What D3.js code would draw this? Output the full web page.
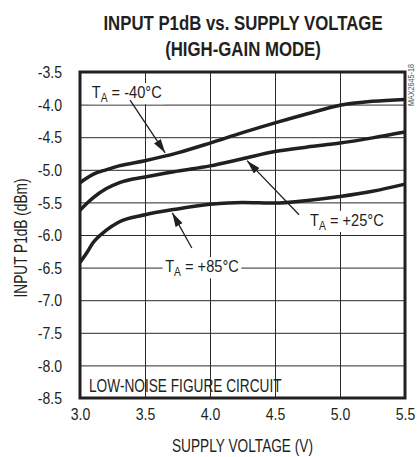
<!DOCTYPE html>
<html>
<head>
<meta charset="utf-8">
<script src="https://cdn.jsdelivr.net/npm/d3@7"></script>
<style>
  body { margin: 0; background: #fff; }
  svg text { font-family: "Liberation Sans", Arial, sans-serif; fill: #231f20; }
</style>
</head>
<body>
<script>
// values
const voltage = [3.0, 3.05, 3.1, 3.2, 3.3, 3.5, 3.75, 4.0, 4.25, 4.5, 4.75, 5.0, 5.25, 5.5];
const p1dbMinus40 = [-5.20, -5.13, -5.07, -5.00, -4.94, -4.86, -4.74, -4.59, -4.43, -4.28, -4.14, -4.01, -3.95, -3.92];
const p1dbPlus25 = [-5.62, -5.52, -5.43, -5.29, -5.20, -5.11, -5.02, -4.94, -4.83, -4.72, -4.65, -4.59, -4.51, -4.42];
const p1dbPlus85 = [-6.42, -6.28, -6.12, -5.93, -5.80, -5.69, -5.60, -5.53, -5.50, -5.51, -5.47, -5.41, -5.33, -5.22];
const xTicks = [3.0, 3.5, 4.0, 4.5, 5.0, 5.5];
const yTicks = [-3.5, -4.0, -4.5, -5.0, -5.5, -6.0, -6.5, -7.0, -7.5, -8.0, -8.5];
const tempLabels = ['-40°C', '+25°C', '+85°C'];

const W = 417, H = 457;
const m = { left: 80, right: 12, top: 72, bottom: 59 };
const ink = '#231f20';

const svg = d3.select('body').append('svg')
  .attr('width', W)
  .attr('height', H);

const x = d3.scaleLinear().domain([3.0, 5.5]).range([m.left, W - m.right]);
const y = d3.scaleLinear().domain([-8.5, -3.5]).range([H - m.bottom, m.top]);

// condensed look: regular font squeezed horizontally
function narrowText(parent, px, py, size, sx, str, anchor) {
  const g = parent.append('g').attr('transform', `translate(${px},${py}) scale(${sx},1)`);
  const t = g.append('text').attr('text-anchor', anchor || 'start').style('font-size', size + 'px');
  if (str != null) t.text(str);
  return t;
}

// title
narrowText(svg, 243, 30, 21, 0.8, 'INPUT P1dB vs. SUPPLY VOLTAGE', 'middle').style('font-weight', 'bold');
narrowText(svg, 243, 56, 21, 0.8, '(HIGH-GAIN MODE)', 'middle').style('font-weight', 'bold');

// grid
svg.append('g')
  .attr('transform', `translate(0,${y(-8.5)})`)
  .call(d3.axisBottom(x).tickValues(xTicks).tickSize(-(y(-8.5) - y(-3.5))).tickFormat(''))
  .call(g => g.select('.domain').remove())
  .selectAll('line').attr('stroke', '#2a2a2a').attr('stroke-width', 1);
svg.append('g')
  .attr('transform', `translate(${x(3.0)},0)`)
  .call(d3.axisLeft(y).tickValues(yTicks).tickSize(-(x(5.5) - x(3.0))).tickFormat(''))
  .call(g => g.select('.domain').remove())
  .selectAll('line').attr('stroke', '#2a2a2a').attr('stroke-width', 1);

// tick labels
svg.append('g')
  .attr('transform', `translate(62,0)`)
  .call(d3.axisLeft(y).tickValues(yTicks).tickSize(0).tickFormat(d => d.toFixed(1)))
  .call(g => g.select('.domain').remove())
  .selectAll('text')
  .attr('x', 0).attr('dy', '0.36em')
  .attr('transform', 'scale(0.88,1)')
  .style('font-size', '16px').style('font-family', null);
svg.append('g')
  .attr('transform', `translate(0,420)`)
  .call(d3.axisBottom(x).tickValues(xTicks).tickSize(0).tickFormat(d => d.toFixed(1)))
  .call(g => g.select('.domain').remove())
  .selectAll('text')
  .attr('y', 0).attr('dy', 0)
  .attr('transform', 'scale(0.88,1)')
  .style('font-size', '16px').style('font-family', null);

// axis titles
const yTitle = svg.append('g').attr('transform', `translate(27,${(y(-3.5) + y(-8.5)) / 2 + 3}) rotate(-90)`);
narrowText(yTitle, 0, 0, 18, 0.76, 'INPUT P1dB (dBm)', 'middle');
narrowText(svg, (x(3.0) + x(5.5)) / 2, 452, 18, 0.76, 'SUPPLY VOLTAGE (V)', 'middle');

// curves
const line = d3.line()
  .x(d => x(d[0]))
  .y(d => y(d[1]))
  .curve(d3.curveMonotoneX);
[p1dbMinus40, p1dbPlus25, p1dbPlus85].forEach(series => {
  svg.append('path')
    .datum(voltage.map((v, i) => [v, series[i]]))
    .attr('d', line)
    .attr('fill', 'none')
    .attr('stroke', ink)
    .attr('stroke-width', 3.5);
});

// annotations: label anchor, arrow tail, arrow tip (data units)
svg.append('defs').append('marker')
  .attr('id', 'head')
  .attr('viewBox', '0 0 14 8')
  .attr('refX', 14).attr('refY', 4)
  .attr('markerWidth', 14).attr('markerHeight', 8)
  .attr('markerUnits', 'userSpaceOnUse')
  .attr('orient', 'auto')
  .append('path').attr('d', 'M0,0L14,4L0,8Z').attr('fill', ink);

const notes = [
  { text: tempLabels[0], at: [3.09, -3.90], from: [3.385, -3.93], to: [3.655, -4.74] },
  { text: tempLabels[1], at: [4.77, -5.86], from: [4.685, -5.69], to: [4.285, -4.86] },
  { text: tempLabels[2], at: [3.655, -6.57], from: [3.86, -6.20], to: [3.71, -5.66] },
];
notes.forEach(n => {
  const t = narrowText(svg, x(n.at[0]), y(n.at[1]), 17, 0.86);
  t.append('tspan').text('T');
  t.append('tspan').attr('dy', 4).style('font-size', '12px').text('A');
  t.append('tspan').attr('dy', -4).text(' = ' + n.text);
  const b = t.node().getBBox();
  d3.select(t.node().parentNode).insert('rect', 'text')
    .attr('x', b.x - 3).attr('y', b.y)
    .attr('width', b.width + 6).attr('height', b.height)
    .attr('fill', '#fff');
  svg.append('line')
    .attr('x1', x(n.from[0])).attr('y1', y(n.from[1]))
    .attr('x2', x(n.to[0])).attr('y2', y(n.to[1]))
    .attr('stroke', ink).attr('stroke-width', 1.3)
    .attr('marker-end', 'url(#head)');
});

narrowText(svg, x(3.0) + 9, 392, 18, 0.76, 'LOW-NOISE FIGURE CIRCUIT');

// frame
svg.append('rect')
  .attr('x', x(3.0)).attr('y', y(-3.5))
  .attr('width', x(5.5) - x(3.0)).attr('height', y(-8.5) - y(-3.5))
  .attr('fill', 'none').attr('stroke', ink).attr('stroke-width', 3);

// part number tag
const tag = svg.append('g').attr('transform', 'translate(414,106) rotate(-90)');
narrowText(tag, 0, 0, 9, 0.8, 'MAX2645-18').style('fill', '#555');
</script>
</body>
</html>
